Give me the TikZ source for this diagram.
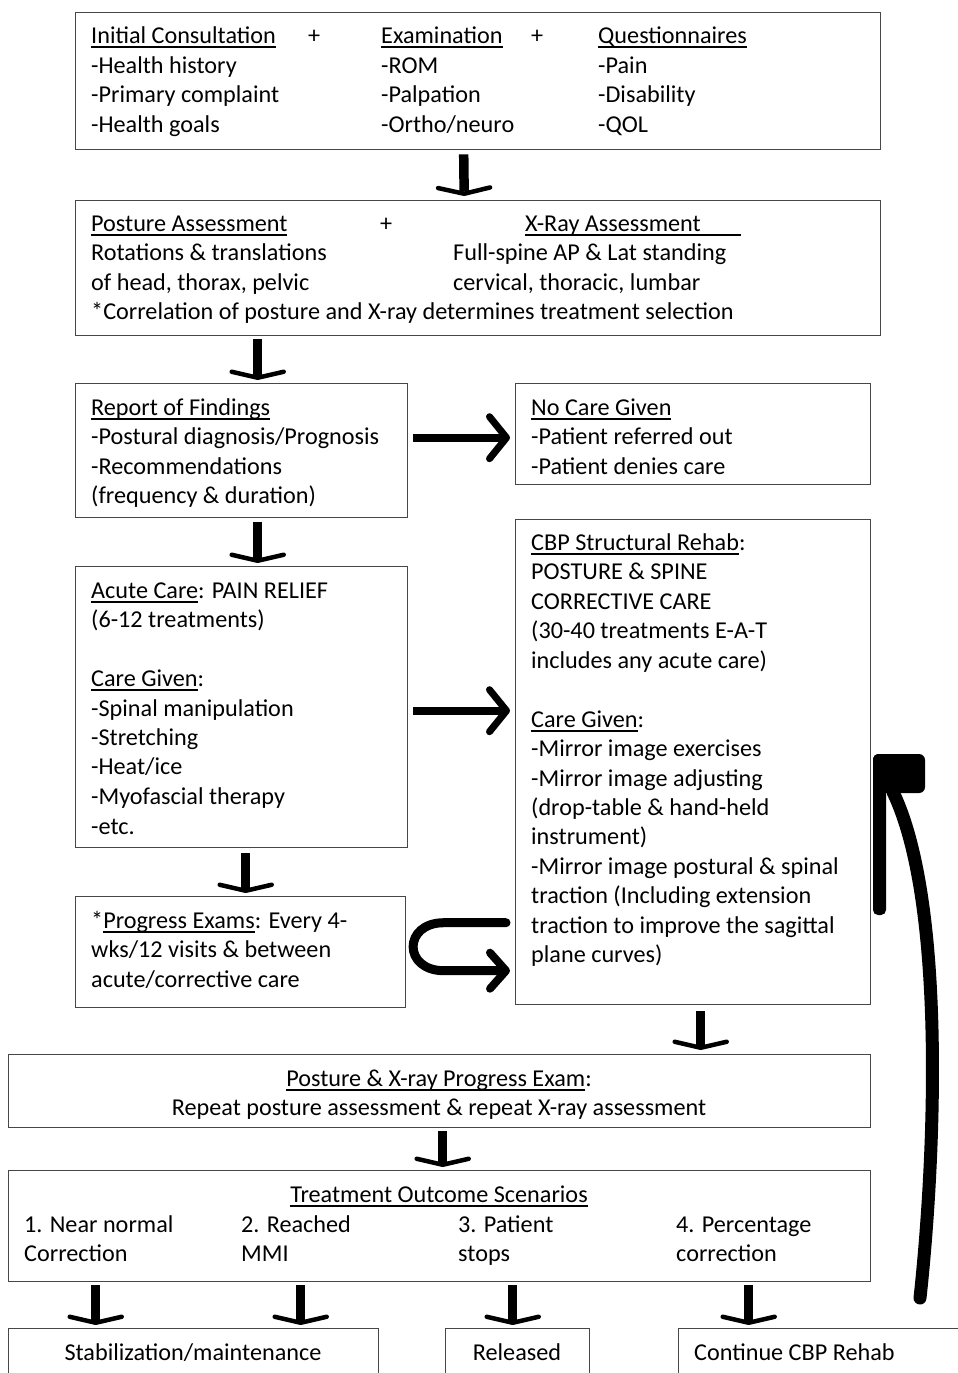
\documentclass[tikz,border=0pt]{standalone}
\usepackage{fontspec}
\setmainfont{Carlito}
\usetikzlibrary{arrows.meta}
\newcommand\myul[1]{\setbox0\hbox{#1}\rlap{\rule[-4.5pt]{\wd0}{1.3pt}}\box0}
\newcommand\T[4]{\node[txt] (#1) at (#2,#3) {#4};}
\newcommand\C[4]{\node[txtc] (#1) at (#2,#3) {#4};}
\begin{document}
\begin{tikzpicture}[x=1pt,y=-1pt,
  box/.style={draw=black!72, line width=1.4pt, inner sep=0pt, anchor=north west},
  txt/.style={anchor=base west, inner sep=0pt, font=\fontsize{24.2}{29.5}\selectfont},
  txtc/.style={anchor=base, inner sep=0pt, font=\fontsize{24.2}{29.5}\selectfont},
  dn/.style={line width=9.5pt, -{Straight Barb[length=6pt,width=52pt,line width=4.5pt,round]}},
  rt/.style={line width=8pt, -{Straight Barb[length=17pt,width=42pt,line width=7pt,round]}},
  uarr/.style={line width=9pt, line cap=round, -{Straight Barb[length=16pt,width=36pt,line width=8pt,round]}}
]
\useasboundingbox (0,0) rectangle (958,1373);
% boxes
\node[box, minimum width=805pt, minimum height=137pt] (b1) at (75,12) {};
\node[box, minimum width=805pt, minimum height=135pt] (b2) at (75,200) {};
\node[box, minimum width=332pt, minimum height=134pt] (b3) at (75,383) {};
\node[box, minimum width=355pt, minimum height=101pt] (b4) at (515,383) {};
\node[box, minimum width=332pt, minimum height=281pt] (b5) at (75,566) {};
\node[box, minimum width=355pt, minimum height=485pt] (b6) at (515,519) {};
\node[box, minimum width=330pt, minimum height=111pt] (b7) at (75,896) {};
\node[box, minimum width=862pt, minimum height=73pt] (b8) at (8,1054) {};
\node[box, minimum width=862pt, minimum height=111pt] (b9) at (8,1170) {};
\node[box, minimum width=370pt, minimum height=80pt] (b10) at (8,1328) {};
\node[box, minimum width=144pt, minimum height=80pt] (b11) at (445,1328) {};
\node[box, minimum width=332pt, minimum height=80pt] (b12) at (678,1328) {};
% top box text
\T{a1}{91}{43}{\myul{Initial Consultation}}
\T{a2}{308}{43}{+}
\T{a3}{381}{43}{\myul{Examination}}
\T{a4}{531}{43}{+}
\T{a5}{598}{43}{\myul{Questionnaires}}
\T{a6}{91}{73}{-Health history}
\T{a7}{381}{73}{-ROM}
\T{a8}{598}{73}{-Pain}
\T{a9}{91}{102}{-Primary complaint}
\T{a10}{381}{102}{-Palpation}
\T{a11}{598}{102}{-Disability}
\T{a12}{91}{132}{-Health goals}
\T{a13}{381}{132}{-Ortho/neuro}
\T{a14}{598}{132}{-QOL}
% posture box
\T{p1}{91}{231}{\myul{Posture Assessment}}
\T{p2}{380}{231}{+}
\T{p3}{525}{231}{\myul{X-Ray Assessment\hspace*{40pt}}}
\T{p4}{91}{260}{Rotations \& translations}
\T{p5}{453}{260}{Full-spine AP \& Lat standing}
\T{p6}{91}{290}{of head, thorax, pelvic}
\T{p7}{453}{290}{cervical, thoracic, lumbar}
\T{p8}{91}{319}{*Correlation of posture and X-ray determines treatment selection}
% report
\T{r1}{91}{415}{\myul{Report of Findings}}
\T{r2}{91}{444}{-Postural diagnosis/Prognosis}
\T{r3}{91}{474}{-Recommendations}
\T{r4}{91}{503}{(frequency \& duration)}
% no care
\T{n1}{531}{415}{\myul{No Care Given}}
\T{n2}{531}{444}{-Patient referred out}
\T{n3}{531}{474}{-Patient denies care}
% acute
\T{c1}{91}{598}{\myul{Acute Care}: PAIN RELIEF}
\T{c2}{91}{627}{(6-12 treatments)}
\T{c3}{91}{686}{\myul{Care Given}:}
\T{c4}{91}{716}{-Spinal manipulation}
\T{c5}{91}{745}{-Stretching}
\T{c6}{91}{774}{-Heat/ice}
\T{c7}{91}{804}{-Myofascial therapy}
\T{c8}{91}{834}{-etc.}
% cbp
\T{s1}{531}{550}{\myul{CBP Structural Rehab}:}
\T{s2}{531}{579}{POSTURE \& SPINE}
\T{s3}{531}{609}{CORRECTIVE CARE}
\T{s4}{531}{638}{(30-40 treatments E-A-T}
\T{s5}{531}{668}{includes any acute care)}
\T{s6}{531}{727}{\myul{Care Given}:}
\T{s7}{531}{756}{-Mirror image exercises}
\T{s8}{531}{786}{-Mirror image adjusting}
\T{s9}{531}{815}{(drop-table \& hand-held}
\T{s10}{531}{844}{instrument)}
\T{s11}{531}{874}{-Mirror image postural \& spinal}
\T{s12}{531}{903}{traction (Including extension}
\T{s13}{531}{933}{traction to improve the sagittal}
\T{s14}{531}{962}{plane curves)}
% progress
\T{g1}{91}{928}{*\myul{Progress Exams}: Every 4-}
\T{g2}{91}{957}{wks/12 visits \& between}
\T{g3}{91}{987}{acute/corrective care}
% posture & xray progress
\C{x1}{439}{1086}{\myul{Posture \& X-ray Progress Exam}:}
\C{x2}{439}{1115}{Repeat posture assessment \& repeat X-ray assessment}
% outcomes
\C{o1}{439}{1202}{\myul{Treatment Outcome Scenarios}}
\T{o2}{24}{1232}{1. Near normal}
\T{o3}{24}{1261}{Correction}
\T{o4}{241}{1232}{2. Reached}
\T{o5}{241}{1261}{MMI}
\T{o6}{458}{1232}{3. Patient}
\T{o7}{458}{1261}{stops}
\T{o8}{676}{1232}{4. Percentage}
\T{o9}{676}{1261}{correction}
% bottom
\C{e1}{193}{1360}{Stabilization/maintenance}
\C{e2}{517}{1360}{Released}
\T{e3}{694}{1360}{Continue CBP Rehab}
% arrows
\draw[dn] ([xshift=-14.5pt,yshift=-4pt]b1.south) -- ([xshift=-14pt,yshift=4pt]b2.north);
\draw[dn] ([xshift=-220.5pt,yshift=-3pt]b2.south) -- ([xshift=16pt,yshift=3pt]b3.north);
\draw[rt] ([xshift=5pt,yshift=13pt]b3.east) -- ([xshift=-5pt,yshift=-3.5pt]b4.west);
\draw[dn] ([xshift=16pt,yshift=-4pt]b3.south) -- ([xshift=16pt,yshift=3pt]b5.north);
\draw[rt] ([xshift=5pt,yshift=-3.5pt]b5.east) -- ([xshift=-5pt,yshift=51.5pt]b6.west);
\draw[dn] ([xshift=4pt,yshift=-5pt]b5.south) -- ([xshift=5pt,yshift=3pt]b7.north);
\draw[uarr] ([xshift=-9pt,yshift=-160.5pt]b6.west) -- ++(-62,0) to[out=180,in=180,looseness=2.2] ++(0,48) -- ([xshift=-5pt,yshift=-208.5pt]b6.west);
\draw[dn] ([xshift=7.5pt,yshift=-6pt]b6.south) -- ([xshift=261pt,yshift=4pt]b8.north);
\draw[dn] ([xshift=3pt,yshift=-3pt]b8.south) -- ([xshift=3pt,yshift=3pt]b9.north);
\draw[dn] ([xshift=-344pt,yshift=-3pt]b9.south) -- ([xshift=-98pt,yshift=3pt]b10.north);
\draw[dn] ([xshift=-139pt,yshift=-3pt]b9.south) -- ([xshift=107pt,yshift=3pt]b10.north);
\draw[dn] ([xshift=73pt,yshift=-3pt]b9.south) -- ([xshift=-5pt,yshift=3pt]b11.north);
\draw[dn] ([xshift=309pt,yshift=-3pt]b9.south) -- ([xshift=-96pt,yshift=3pt]b12.north);
% big return arrow to CBP box
\coordinate (rs) at (920,1298);
\coordinate (re) at (893,792);
\draw[line width=13pt, line cap=round] (rs) .. controls (936,1150) and (945,900) .. (re);
\fill[rounded corners=6pt] (873,754) rectangle (925,793);
\fill[rounded corners=5pt] (873,754) rectangle (886,915);
\end{tikzpicture}
\end{document}
